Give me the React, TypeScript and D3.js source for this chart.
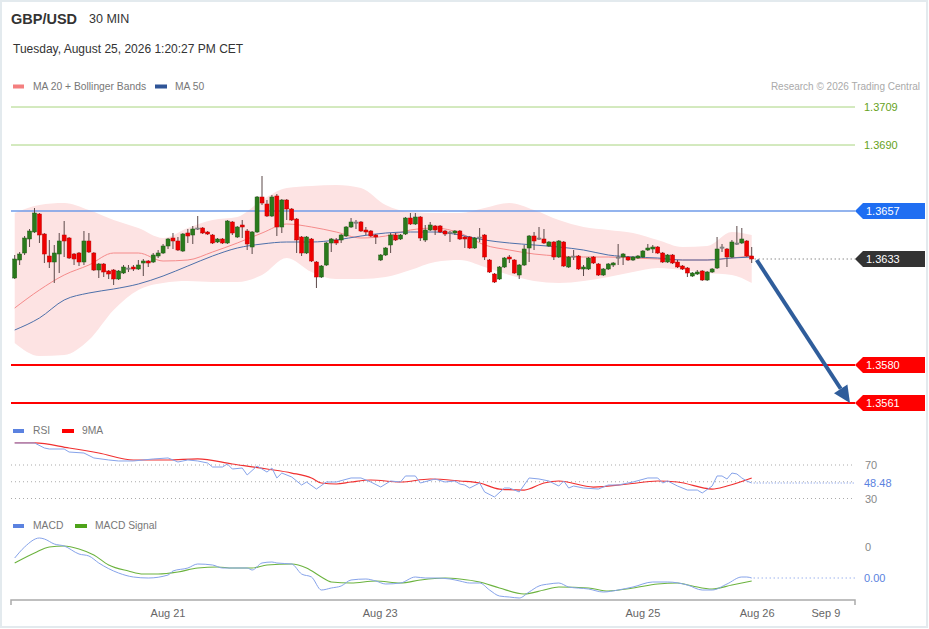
import React from "react";
import * as d3 from "d3";

// candles: [open, high, low, close]
const ohlc: [number, number, number, number][] = [
  [1.36235, 1.3635, 1.3623, 1.3633], [1.36325, 1.36365, 1.363, 1.36355], [1.3636, 1.36445, 1.3635, 1.36435],
  [1.3643, 1.3648, 1.3639, 1.3647], [1.36465, 1.36585, 1.3646, 1.3656], [1.36555, 1.3656, 1.3641, 1.3645],
  [1.36455, 1.3646, 1.3631, 1.36355], [1.36345, 1.36425, 1.36285, 1.36315], [1.36315, 1.364, 1.3621, 1.3636],
  [1.36355, 1.3646, 1.3626, 1.3642], [1.3645, 1.3652, 1.3634, 1.3642], [1.36435, 1.3644, 1.3633, 1.36335],
  [1.36355, 1.3636, 1.363, 1.3633], [1.3636, 1.36365, 1.36295, 1.36315], [1.36315, 1.3647, 1.363, 1.3642],
  [1.3642, 1.3646, 1.3636, 1.36365], [1.3636, 1.36365, 1.3627, 1.36275], [1.36275, 1.3631, 1.36235, 1.36305],
  [1.36305, 1.3631, 1.3624, 1.36265], [1.3627, 1.36275, 1.3623, 1.36255], [1.36275, 1.3628, 1.362, 1.3623],
  [1.3623, 1.36275, 1.36225, 1.3627], [1.3626, 1.363, 1.36255, 1.3629], [1.3628, 1.363, 1.36265, 1.36285],
  [1.3629, 1.363, 1.3627, 1.3628], [1.3628, 1.36325, 1.36275, 1.363], [1.3631, 1.3633, 1.36245, 1.3632],
  [1.3632, 1.36325, 1.3629, 1.3631], [1.36315, 1.3636, 1.3631, 1.3635], [1.36345, 1.36375, 1.36335, 1.3636],
  [1.3636, 1.36405, 1.36355, 1.36395], [1.36395, 1.36435, 1.3638, 1.3643], [1.36435, 1.3646, 1.3638, 1.3642],
  [1.3642, 1.3644, 1.3637, 1.36375], [1.3637, 1.3646, 1.36365, 1.36455], [1.3646, 1.3648, 1.3641, 1.36445],
  [1.3645, 1.36495, 1.36405, 1.3648], [1.36485, 1.36545, 1.36475, 1.3648], [1.36485, 1.3649, 1.36455, 1.3646],
  [1.36465, 1.3647, 1.3645, 1.36455], [1.3645, 1.36455, 1.36405, 1.3641], [1.36415, 1.36435, 1.3641, 1.3643],
  [1.3643, 1.36435, 1.36405, 1.3641], [1.3641, 1.36525, 1.36405, 1.3652], [1.36515, 1.3652, 1.3645, 1.3646],
  [1.3644, 1.36495, 1.36435, 1.3649], [1.365, 1.36525, 1.36435, 1.3649], [1.3647, 1.3648, 1.36375, 1.36405],
  [1.3639, 1.3647, 1.36355, 1.36465], [1.36465, 1.36645, 1.3646, 1.3664], [1.3664, 1.36745, 1.366, 1.3661],
  [1.36605, 1.36625, 1.3654, 1.36545], [1.36545, 1.3665, 1.3654, 1.3664], [1.36645, 1.36655, 1.36445, 1.3649],
  [1.3649, 1.3663, 1.3646, 1.36625], [1.36625, 1.3663, 1.36525, 1.3658], [1.3658, 1.36585, 1.3652, 1.36525],
  [1.3653, 1.36535, 1.3636, 1.36425], [1.3644, 1.36445, 1.36345, 1.3636], [1.3636, 1.36445, 1.36355, 1.3644],
  [1.3643, 1.36435, 1.36315, 1.3632], [1.36315, 1.3632, 1.36185, 1.3624], [1.3624, 1.363, 1.36235, 1.36295],
  [1.363, 1.36415, 1.36295, 1.3641], [1.3641, 1.36435, 1.36365, 1.3643], [1.36425, 1.36435, 1.364, 1.3641],
  [1.36425, 1.36455, 1.3641, 1.3645], [1.36445, 1.36495, 1.3644, 1.3649], [1.3649, 1.36535, 1.36485, 1.36515],
  [1.36515, 1.36525, 1.3648, 1.3651], [1.36515, 1.3652, 1.36465, 1.3647], [1.36475, 1.3649, 1.3645, 1.36465],
  [1.3647, 1.36475, 1.3644, 1.36445], [1.3645, 1.36455, 1.36405, 1.3644], [1.36325, 1.36355, 1.3632, 1.3635],
  [1.3635, 1.3639, 1.36345, 1.36385], [1.364, 1.3646, 1.3636, 1.3645], [1.3645, 1.3646, 1.3642, 1.36425],
  [1.3643, 1.36455, 1.36425, 1.3645], [1.36455, 1.3654, 1.3645, 1.36535], [1.36535, 1.3656, 1.365, 1.36505],
  [1.36505, 1.3656, 1.365, 1.3654], [1.3654, 1.36545, 1.3642, 1.36435], [1.36425, 1.365, 1.36415, 1.36475],
  [1.36475, 1.36515, 1.3647, 1.365], [1.36495, 1.365, 1.3645, 1.36475], [1.36495, 1.365, 1.3646, 1.36465],
  [1.3647, 1.36475, 1.36445, 1.36455], [1.3646, 1.3647, 1.36415, 1.36465], [1.3646, 1.36475, 1.3645, 1.3647],
  [1.3647, 1.36475, 1.36425, 1.3643], [1.3644, 1.36445, 1.36385, 1.3643], [1.3644, 1.36445, 1.3638, 1.36385],
  [1.36385, 1.3644, 1.3638, 1.36435], [1.3644, 1.36485, 1.36415, 1.36435], [1.3645, 1.36455, 1.36325, 1.3634],
  [1.36325, 1.3633, 1.3626, 1.36265], [1.36255, 1.3626, 1.3621, 1.36215], [1.3623, 1.36295, 1.36225, 1.3629],
  [1.3629, 1.3634, 1.36285, 1.36335], [1.3634, 1.3635, 1.3631, 1.3633], [1.36325, 1.3633, 1.36255, 1.3626],
  [1.3625, 1.36305, 1.3623, 1.363], [1.363, 1.364, 1.36295, 1.3638], [1.36385, 1.3645, 1.36315, 1.36445],
  [1.36445, 1.36465, 1.36375, 1.3642], [1.36435, 1.3649, 1.36425, 1.3643], [1.3643, 1.3648, 1.36405, 1.3641],
  [1.36395, 1.3642, 1.3639, 1.36415], [1.36415, 1.3642, 1.36325, 1.3634], [1.3634, 1.36425, 1.36335, 1.3642],
  [1.36415, 1.3642, 1.3629, 1.36295], [1.3629, 1.36345, 1.36285, 1.3634], [1.3634, 1.36375, 1.36325, 1.36345],
  [1.36345, 1.3635, 1.36275, 1.3628], [1.3628, 1.363, 1.36245, 1.3629], [1.3628, 1.3634, 1.36275, 1.36335],
  [1.3634, 1.36345, 1.36305, 1.3631], [1.36305, 1.3631, 1.36245, 1.3625], [1.3625, 1.36285, 1.36245, 1.3628],
  [1.3628, 1.3631, 1.36275, 1.36305], [1.363, 1.36315, 1.3629, 1.3631], [1.3634, 1.36405, 1.363, 1.36335],
  [1.3634, 1.3636, 1.363, 1.36355], [1.3634, 1.36345, 1.3632, 1.36325], [1.36325, 1.36345, 1.3632, 1.3634],
  [1.36335, 1.3635, 1.3633, 1.36345], [1.3634, 1.36375, 1.36335, 1.3637], [1.36375, 1.36405, 1.3637, 1.36385],
  [1.3638, 1.364, 1.3636, 1.3639], [1.3639, 1.36395, 1.36355, 1.3636], [1.3636, 1.36365, 1.3631, 1.36315],
  [1.36315, 1.36355, 1.3631, 1.3635], [1.3635, 1.36355, 1.36305, 1.3631], [1.36315, 1.36325, 1.36285, 1.3629],
  [1.36295, 1.363, 1.36275, 1.3628], [1.36285, 1.3629, 1.3624, 1.3626], [1.36245, 1.36265, 1.3624, 1.3626],
  [1.36255, 1.36275, 1.3625, 1.36265], [1.3627, 1.36275, 1.3622, 1.36225], [1.36225, 1.3627, 1.3622, 1.36265],
  [1.36265, 1.36285, 1.3626, 1.3628], [1.36285, 1.3644, 1.3628, 1.3638], [1.3639, 1.36405, 1.36365, 1.36385],
  [1.3638, 1.36385, 1.3629, 1.3634], [1.3634, 1.36425, 1.36335, 1.36415], [1.3641, 1.36495, 1.364, 1.36405],
  [1.3641, 1.36485, 1.36405, 1.3643], [1.3642, 1.36425, 1.3634, 1.36345], [1.36345, 1.3639, 1.3631, 1.3633],
];

// MA / Bollinger samples (bar index)
const bandIdx = [0, 5, 10, 15, 20, 25, 30, 35, 40, 45, 50, 55, 60, 65, 70, 75, 80, 85, 90, 95, 100, 105, 110, 115, 120, 125, 130, 135, 140, 145, 149];
const bbUpper = [1.3656, 1.366, 1.3661, 1.36575, 1.36525, 1.36485, 1.36435, 1.36485, 1.36525, 1.3654, 1.36625, 1.36685, 1.36695, 1.367, 1.36685, 1.366, 1.36565, 1.3656, 1.3656, 1.36585, 1.3661, 1.36575, 1.36525, 1.3649, 1.36475, 1.3646, 1.36425, 1.3639, 1.36395, 1.36465, 1.3645];
const bbLower = [1.3591, 1.35845, 1.3585, 1.35925, 1.36075, 1.36175, 1.3621, 1.3622, 1.36215, 1.36215, 1.3625, 1.36335, 1.36265, 1.3623, 1.3623, 1.3624, 1.36275, 1.36315, 1.36325, 1.3629, 1.3625, 1.3622, 1.3621, 1.3622, 1.3624, 1.36265, 1.36285, 1.36275, 1.3626, 1.3625, 1.3621];
const ma20 = [1.36085, 1.36175, 1.3625, 1.363, 1.3636, 1.3636, 1.3632, 1.36325, 1.36365, 1.3641, 1.3646, 1.36505, 1.3649, 1.36465, 1.36435, 1.36445, 1.36475, 1.36485, 1.3646, 1.364, 1.36375, 1.36355, 1.36345, 1.3634, 1.3634, 1.36335, 1.3633, 1.36325, 1.36325, 1.36335, 1.36345];
const ma50 = [1.35975, 1.36035, 1.36125, 1.3616, 1.3618, 1.36205, 1.36245, 1.36295, 1.36345, 1.36385, 1.36405, 1.36415, 1.36415, 1.36425, 1.36445, 1.3646, 1.36465, 1.36465, 1.3645, 1.36425, 1.3641, 1.364, 1.3639, 1.36375, 1.3635, 1.3634, 1.36335, 1.36325, 1.36325, 1.36335, 1.3634];

// [bar index, value]
const rsi: [number, number][] = [
  [0, 96.3], [4, 96.3], [6, 90.3], [7, 89.1], [10, 89.1], [11, 85.5], [14, 84.3], [16, 78.4], [19, 76], [21, 74.8],
  [24, 74.8], [28, 77.2], [31, 78.4], [33, 73.6], [35, 76], [37, 74.8], [39, 72.4], [40, 67.6], [42, 67.6], [43, 71.2],
  [44, 65.2], [46, 66.4], [47, 58.1], [49, 68.8], [51, 61.6], [52, 66.4], [53, 54.5], [54, 60.4], [56, 55.7], [58, 46.1],
  [59, 49.7], [61, 41.3], [63, 49.7], [65, 49.7], [68, 54.5], [70, 54.5], [72, 49.7], [74, 43.7], [76, 50.9], [78, 49.7],
  [79, 56.9], [81, 56.9], [82, 48.5], [85, 53.3], [87, 49.7], [89, 50.9], [90, 47.3], [91, 46.1], [92, 42.5], [94, 48.5],
  [95, 37.8], [97, 31.8], [99, 42.5], [100, 42.5], [102, 37.8], [104, 54.5], [106, 53.3], [108, 50.9], [110, 44.9], [111, 50.9],
  [112, 42.5], [113, 44.9], [115, 42.5], [118, 41.3], [120, 46.1], [122, 46.1], [124, 48.5], [125, 49.7], [128, 54.5], [130, 54.5],
  [131, 48.5], [132, 50.9], [134, 44.9], [136, 40.1], [138, 40.1], [139, 36.6], [141, 44.9], [142, 56.9], [143, 56.9], [144, 53.3],
  [145, 60.4], [146, 59.3], [147, 54.5], [148, 50.9], [149, 48.48],
];
const rsiMa: [number, number][] = [
  [0, 96.3], [4, 96.3], [11, 90.3], [17, 84.3], [24, 76], [31, 76], [37, 77.2], [44, 71.2], [51, 65.2], [56, 60.4],
  [60, 54.5], [62, 48.5], [65, 47.3], [68, 49.7], [72, 52.1], [78, 49.7], [84, 53.3], [90, 50.9], [94, 48.5], [98, 41.3],
  [103, 40.1], [107, 48.5], [110, 50.9], [117, 43.7], [124, 47.3], [130, 50.9], [134, 49.7], [141, 41.3], [144, 44.9], [149, 54.5],
];
const macd: [number, number][] = [
  [0, -0.00022], [2, 0], [5, 0.00018], [6, 0.00016], [8, 0.00006], [10, 0.00002], [13, -0.00014], [15, -0.00018], [17, -0.00032],
  [21, -0.00052], [24, -0.0006], [27, -0.00062], [31, -0.00056], [32, -0.00048], [35, -0.00042], [37, -0.00034], [40, -0.00036],
  [42, -0.00042], [44, -0.00042], [47, -0.00042], [48, -0.00046], [50, -0.00032], [52, -0.0003], [53, -0.00032], [56, -0.00034],
  [58, -0.00054], [60, -0.0006], [62, -0.00086], [64, -0.00082], [66, -0.00078], [68, -0.00066], [71, -0.00064], [73, -0.00068],
  [75, -0.00074], [78, -0.00072], [81, -0.0006], [83, -0.00062], [85, -0.00062], [88, -0.00064], [90, -0.00068], [92, -0.00072],
  [94, -0.00072], [96, -0.00086], [98, -0.00098], [100, -0.001], [102, -0.00102], [104, -0.0009], [106, -0.00078], [108, -0.00074],
  [110, -0.00072], [112, -0.0008], [116, -0.00084], [119, -0.0009], [122, -0.00086], [125, -0.0008], [129, -0.0007], [132, -0.0007],
  [136, -0.00076], [139, -0.00086], [141, -0.00086], [144, -0.00074], [147, -0.0006], [148, -0.0006], [149, -0.00062],
];
const macdSignal: [number, number][] = [
  [0, -0.00032], [4, -0.00012], [7, 0], [10, 0.00002], [13, -0.00004], [16, -0.00016], [19, -0.00036], [23, -0.00048],
  [26, -0.00054], [29, -0.00054], [33, -0.0005], [37, -0.00042], [41, -0.0004], [44, -0.00042], [48, -0.00042], [51, -0.00036],
  [56, -0.00034], [59, -0.00042], [62, -0.0006], [64, -0.0007], [68, -0.00072], [73, -0.00068], [78, -0.00072], [82, -0.00066],
  [87, -0.00062], [90, -0.00064], [94, -0.0007], [98, -0.00082], [103, -0.00094], [107, -0.00086], [110, -0.0008], [116, -0.00082],
  [120, -0.00088], [125, -0.00082], [130, -0.00074], [134, -0.00072], [137, -0.00078], [141, -0.00084], [145, -0.00076], [149, -0.00068],
];

const dateLabels = ["Aug 21", "Aug 23", "Aug 25", "Aug 26", "Sep 9"];
const datePos = [31, 73.9, 127, 150.1, 164];

const resistances = [1.3709, 1.369];
const pivot = 1.3657;
const lastPrice = 1.3633;
const supports = [1.358, 1.3561];
const target = 1.3561;
const rsiGrid = [70, 50, 30];
const rsiTicks = [70, 30];
const rsiLast = "48.48";
const macdLast = "0.00";

const FONT = "'Liberation Sans', Arial, sans-serif";
const GREEN = "#2a7a1c";
const RED = "#ee0000";

export default function App() {
  const left = 11;
  const right = 855;
  const x = d3.scaleLinear().domain([0, ohlc.length - 1]).range([14.7, 751.7]);
  const y = d3.scaleLinear().domain([1.3561, 1.3709]).range([403, 107]);
  const rsiY = d3.scaleLinear().domain([30, 70]).range([498.5, 465]);
  const macdY = d3.scaleLinear().domain([-0.001, 0]).range([597, 547]);

  const bandData = bandIdx.map((i, k) => ({ i, up: bbUpper[k], lo: bbLower[k], m20: ma20[k], m50: ma50[k] }));
  type B = (typeof bandData)[number];
  const bandArea = d3.area<B>().x((d) => x(d.i)).y0((d) => y(d.lo)).y1((d) => y(d.up)).curve(d3.curveMonotoneX)(bandData) || "";
  const ma20Path = d3.line<B>().x((d) => x(d.i)).y((d) => y(d.m20)).curve(d3.curveMonotoneX)(bandData) || "";
  const ma50Path = d3.line<B>().x((d) => x(d.i)).y((d) => y(d.m50)).curve(d3.curveMonotoneX)(bandData) || "";

  const rsiLine = d3.line<[number, number]>().x((d) => x(d[0])).y((d) => rsiY(d[1]));
  const rsiMaLine = d3.line<[number, number]>().x((d) => x(d[0])).y((d) => rsiY(d[1])).curve(d3.curveMonotoneX);
  const macdLine = d3.line<[number, number]>().x((d) => x(d[0])).y((d) => macdY(d[1])).curve(d3.curveMonotoneX);

  // forecast arrow
  const ax0 = x(ohlc.length - 1) + 5;
  const ay0 = y(lastPrice) + 1;
  const ax1 = 850;
  const ay1 = y(target);
  const ang = Math.atan2(ay1 - ay0, ax1 - ax0);
  const headLen = 17;
  const headW = 8;
  const bx = ax1 - headLen * Math.cos(ang);
  const by = ay1 - headLen * Math.sin(ang);
  const px = -Math.sin(ang);
  const py = Math.cos(ang);

  const tag = (yy: number) =>
    `M${right},${yy} L${right + 8},${yy - 8} L925,${yy - 8} L925,${yy + 8} L${right + 8},${yy + 8} Z`;

  const boxed = [
    { v: pivot, fill: "#1f6ef2", line: "#6f9be8", w: 1.5 },
    ...supports.map((v) => ({ v, fill: "#ff0000", line: "#ff0000", w: 2 })),
  ];

  const lastX = x(ohlc.length - 1);

  return (
    <svg width={929} height={629} style={{ position: "absolute", left: 0, top: 0 }} fontFamily={FONT}>
      <rect x={1} y={1} width={926} height={626} fill="#fff" stroke="#e3eaee" strokeWidth={2} />

      {/* header */}
      <text x={11} y={24} fontSize={14.5} fontWeight="bold" fill="#333">GBP/USD</text>
      <text x={89} y={23} fontSize={12.5} fill="#333">30 MIN</text>
      <text x={13} y={53} fontSize={12} fill="#333">Tuesday, August 25, 2026 1:20:27 PM CET</text>

      <rect x={13} y={84.5} width={11} height={4} fill="#f47f7f" />
      <text x={33} y={90} fontSize={10.3} fill="#777">MA 20 + Bollinger Bands</text>
      <rect x={155} y={84.5} width={12} height={4} fill="#2f5597" />
      <text x={175} y={90} fontSize={10.3} fill="#777">MA 50</text>
      <text x={920} y={90} fontSize={10} fill="#aaa" textAnchor="end">Research © 2026 Trading Central</text>

      {/* bollinger + MAs */}
      <path d={bandArea} fill="#fde3e3" />
      <path d={ma20Path} fill="none" stroke="#f58b8b" strokeWidth={1} />
      <path d={ma50Path} fill="none" stroke="#4d70aa" strokeWidth={1} />

      {/* resistance levels */}
      {resistances.map((v) => (
        <g key={v}>
          <line x1={left} x2={right} y1={y(v)} y2={y(v)} stroke="#a8d47e" strokeWidth={1} />
          <text x={864} y={y(v) + 4} fontSize={11} fill="#66a21c">{v.toFixed(4)}</text>
        </g>
      ))}

      {boxed.map((b) => (
        <line key={b.v} x1={left} x2={right} y1={y(b.v)} y2={y(b.v)} stroke={b.line} strokeWidth={b.w} />
      ))}

      {/* candles */}
      {ohlc.map(([o, h, l, c], i) => {
        const cx = x(i);
        const diff = c - o;
        const col = Math.abs(diff) < 0.00006 ? "#8a8a8a" : diff > 0 ? GREEN : RED;
        const top = y(Math.max(o, c));
        const hgt = Math.max(1.2, Math.abs(y(o) - y(c)));
        return (
          <g key={i}>
            <line x1={cx} x2={cx} y1={y(h)} y2={y(l)} stroke="#5b4848" strokeWidth={1} />
            <rect x={cx - 2} y={top} width={4} height={hgt} fill={col} stroke={col === GREEN ? "#1f5c14" : col === RED ? "#c00000" : "#777"} strokeWidth={0.5} />
          </g>
        );
      })}

      {/* last price */}
      <line x1={lastX + 3} x2={right} y1={y(lastPrice)} y2={y(lastPrice)} stroke="#555" strokeWidth={1} strokeDasharray="1,3" />

      {/* arrow */}
      <line x1={ax0} y1={ay0} x2={bx} y2={by} stroke="#2f5d9b" strokeWidth={4} />
      <path
        d={`M${ax1},${ay1} L${bx + px * headW},${by + py * headW} L${bx - px * headW},${by - py * headW} Z`}
        fill="#2f5d9b"
      />

      {/* price tags */}
      {boxed.map((b) => (
        <g key={b.v}>
          <path d={tag(y(b.v))} fill={b.fill} />
          <text x={866} y={y(b.v) + 4} fontSize={11} fill="#fff">{b.v.toFixed(4)}</text>
        </g>
      ))}
      <path d={tag(y(lastPrice))} fill="#333" />
      <text x={866} y={y(lastPrice) + 4} fontSize={11} fill="#fff">{lastPrice.toFixed(4)}</text>

      {/* RSI panel */}
      <rect x={13} y={429} width={11} height={4} fill="#5b82e0" />
      <text x={33} y={434} fontSize={10.3} fill="#777">RSI</text>
      <rect x={62} y={429} width={12} height={4} fill="#ff0000" />
      <text x={82} y={434} fontSize={10.3} fill="#777">9MA</text>
      {rsiGrid.map((v) => (
        <line key={v} x1={left} x2={right} y1={rsiY(v)} y2={rsiY(v)} stroke="#aaa" strokeWidth={1} strokeDasharray="1,3" />
      ))}
      {rsiTicks.map((v) => (
        <text key={v} x={865} y={rsiY(v) + 4} fontSize={11} fill="#888">{v}</text>
      ))}
      <path d={rsiMaLine(rsiMa) || ""} fill="none" stroke="#f03030" strokeWidth={1.2} />
      <path d={rsiLine(rsi) || ""} fill="none" stroke="#86a3ea" strokeWidth={1} />
      <line x1={lastX + 2} x2={right} y1={rsiY(rsi[rsi.length - 1][1])} y2={rsiY(rsi[rsi.length - 1][1])} stroke="#6f8fe6" strokeDasharray="1,2" />
      <text x={864} y={rsiY(rsi[rsi.length - 1][1]) + 4} fontSize={11} fill="#5b82e0">{rsiLast}</text>

      {/* MACD panel */}
      <rect x={13} y={524} width={11} height={4} fill="#5b82e0" />
      <text x={33} y={529} fontSize={10.3} fill="#777">MACD</text>
      <rect x={75} y={524} width={12} height={4} fill="#4ea31a" />
      <text x={95} y={529} fontSize={10.3} fill="#777">MACD Signal</text>
      <text x={865} y={macdY(0) + 4} fontSize={11} fill="#888">0</text>
      <path d={macdLine(macdSignal) || ""} fill="none" stroke="#6cb33f" strokeWidth={1.1} />
      <path d={macdLine(macd) || ""} fill="none" stroke="#86a3ea" strokeWidth={1} />
      <line x1={lastX + 2} x2={right} y1={macdY(macd[macd.length - 1][1])} y2={macdY(macd[macd.length - 1][1])} stroke="#6f8fe6" strokeDasharray="1,3" />
      <text x={864} y={macdY(macd[macd.length - 1][1]) + 4} fontSize={11} fill="#5b82e0">{macdLast}</text>

      {/* x axis */}
      <path d={`M${left},605 V600 H${right} V605`} fill="none" stroke="#aaa" strokeWidth={1.5} />
      {dateLabels.map((t, k) => (
        <text key={t} x={x(datePos[k])} y={617} fontSize={11} fill="#666" textAnchor="middle">{t}</text>
      ))}
    </svg>
  );
}
